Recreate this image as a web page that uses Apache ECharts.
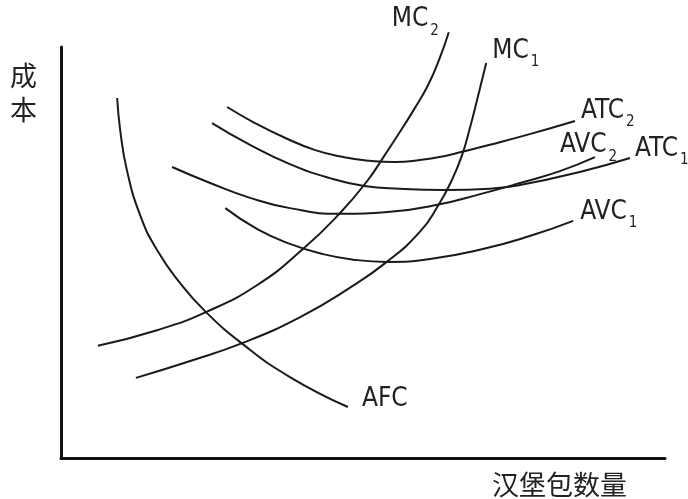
<!DOCTYPE html>
<html><head><meta charset="utf-8">
<script src="https://cdn.jsdelivr.net/npm/echarts@6/dist/echarts.min.js"></script>
<style>html,body{margin:0;padding:0;background:#fff}#c{width:688px;height:499px}</style>
</head><body><div id="c"></div><script>
// Quantity (x) and cost (y), arbitrary units 0-100
const mc2 = [[6.1,27.3],[15.9,31.1],[24.0,35.5],[32.5,42.1],[40.1,50.9],[46.2,59.6],[50.7,67.4],[53.6,73.7],[56.1,79.3],[58.4,84.7],[60.8,90.8],[62.7,97.3],[64.2,103.6]];
const mc1 = [[12.4,19.5],[21.4,23.6],[30.1,28.0],[39.6,34.3],[47.8,41.4],[54.1,47.9],[59.4,55.0],[62.4,61.3],[64.7,67.6],[66.4,73.7],[67.7,80.3],[69.0,87.8],[70.4,96.1]];
const afc = [[9.3,87.6],[9.8,79.8],[10.9,70.1],[13.1,59.1],[15.9,50.6],[19.7,42.6],[23.8,35.8],[30.1,27.7],[37.9,19.7],[47.5,12.4]];
const atc2 = [[27.5,85.4],[32.1,81.5],[36.8,78.1],[42.1,74.9],[46.9,73.2],[51.2,72.3],[55.3,72.0],[59.4,72.5],[63.6,73.5],[66.4,74.5],[71.0,76.2],[77.6,78.8],[85.1,82.0]];
const atc1 = [[25.0,81.5],[31.3,76.2],[37.9,71.5],[44.5,68.1],[50.2,66.2],[56.1,65.5],[63.6,65.2],[71.0,65.5],[76.0,66.4],[85.9,69.6],[94.2,73.0]];
const avc2 = [[18.4,70.8],[24.7,66.9],[31.3,63.3],[37.9,60.8],[46.2,59.4],[54.5,59.9],[62.3,61.6],[69.4,64.2],[76.0,66.9],[82.6,69.8],[88.4,73.2]];
const avc1 = [[27.2,60.8],[32.5,55.7],[37.9,52.1],[43.4,49.6],[48.7,48.2],[54.1,47.7],[61.1,48.4],[70.0,50.9],[77.6,54.0],[84.8,57.7]];

const curveNames = ['MC2','MC1','AFC','ATC2','ATC1','AVC2','AVC1'];
const curveMain  = ['MC','MC','AFC','ATC','ATC','AVC','AVC'];
const curveSub   = ['2','1','','2','1','2','1'];
const curveData  = [mc2, mc1, afc, atc2, atc1, avc2, avc1];
const xName = '汉堡包数量';
const yName = '成\n本';

// label placement (styling only)
const labelOffsets = [[-57,-26],[6,-25],[14,-21],[6,-23],[5,-22],[-35,-25],[7,-22]];

const FONT = '"Liberation Sans Narrow","Arial Narrow","DejaVu Sans Condensed",sans-serif';
const CJK = '"Noto Sans CJK SC","Noto Sans CJK JP",sans-serif';

const chart = echarts.init(document.getElementById('c'), null, {renderer:'canvas'});
const series = curveData.map((d, i) => ({
  type: 'line',
  name: curveNames[i],
  data: d,
  smooth: 0.5,
  clip: false,
  showSymbol: false,
  symbol: 'none',
  lineStyle: {color: '#1a1a1a', width: 2},
  endLabel: {
    show: true,
    distance: 0,
    align: 'left',
    verticalAlign: 'top',
    offset: labelOffsets[i],
    formatter: curveSub[i] ? '{a|' + curveMain[i] + '}{s|' + curveSub[i] + '}' : '{a|' + curveMain[i] + '}',
    rich: {
      a: {fontFamily: FONT, fontSize: 26, lineHeight: 26, verticalAlign: 'top', color: '#222'},
      s: {fontFamily: FONT, fontSize: 15, lineHeight: 15, verticalAlign: 'top', color: '#222', padding: [17,0,0,2]}
    }
  }
}));

chart.setOption({
  animation: false,
  backgroundColor: '#fff',
  grid: {left: 61, right: 23, top: 47, bottom: 41},
  xAxis: {
    type: 'value', min: 0, max: 100,
    axisLine: {show: true, lineStyle: {color: '#111', width: 3}},
    axisTick: {show: false}, axisLabel: {show: false}, splitLine: {show: false},
    name: xName, nameLocation: 'end', nameGap: -38,
    nameTextStyle: {fontFamily: CJK, fontSize: 27, color: '#222', align: 'right', verticalAlign: 'top', padding: [13,0,0,0]}
  },
  yAxis: {
    type: 'value', min: 0, max: 100,
    axisLine: {show: true, lineStyle: {color: '#111', width: 3}},
    axisTick: {show: false}, axisLabel: {show: false}, splitLine: {show: false},
    name: yName, nameLocation: 'end', nameGap: -12,
    nameTextStyle: {fontFamily: CJK, fontSize: 27, lineHeight: 34, color: '#222', align: 'right', verticalAlign: 'top', padding: [0,24,0,0]}
  },
  series: series
});
</script></body></html>
